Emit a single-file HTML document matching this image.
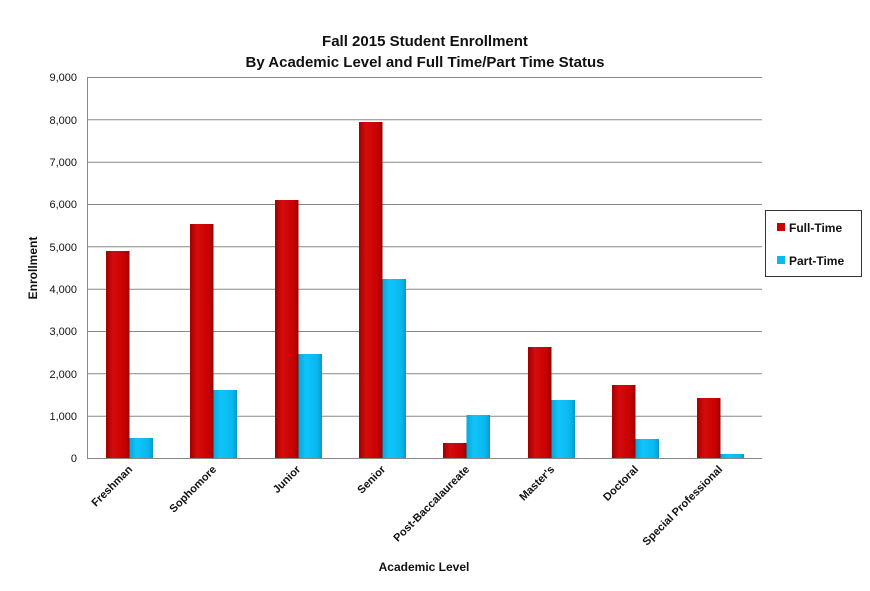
<!DOCTYPE html>
<html><head><style>
body{margin:0;background:#fff;}
svg text{font-family:"Liberation Sans",sans-serif;}
</style></head><body>
<svg width="870" height="586" xmlns="http://www.w3.org/2000/svg">
<defs>
<linearGradient id="r" x1="0" x2="1"><stop offset="0" stop-color="#a00000"/><stop offset="0.3" stop-color="#d40c0c"/><stop offset="0.8" stop-color="#c80000"/><stop offset="1" stop-color="#960000"/></linearGradient>
<linearGradient id="b" x1="0" x2="1"><stop offset="0" stop-color="#0aa6d8"/><stop offset="0.3" stop-color="#10c4f8"/><stop offset="0.8" stop-color="#08b8f0"/><stop offset="1" stop-color="#0898c8"/></linearGradient>
</defs>
<text x="425" y="46" font-size="15" font-weight="bold" text-anchor="middle" fill="#111">Fall 2015 Student Enrollment</text>
<text x="425" y="67" font-size="15" font-weight="bold" text-anchor="middle" fill="#111">By Academic Level and Full Time/Part Time Status</text>
<g stroke="#888" stroke-width="1">
<line x1="87" y1="77.5" x2="762" y2="77.5"/><line x1="87" y1="119.8" x2="762" y2="119.8"/><line x1="87" y1="162.2" x2="762" y2="162.2"/><line x1="87" y1="204.5" x2="762" y2="204.5"/><line x1="87" y1="246.8" x2="762" y2="246.8"/><line x1="87" y1="289.2" x2="762" y2="289.2"/><line x1="87" y1="331.5" x2="762" y2="331.5"/><line x1="87" y1="373.8" x2="762" y2="373.8"/><line x1="87" y1="416.2" x2="762" y2="416.2"/><line x1="87" y1="458.5" x2="762" y2="458.5"/>
<line x1="87.5" y1="77" x2="87.5" y2="459"/>
</g>
<g font-size="11" text-anchor="end" fill="#111">
<text x="77" y="81">9,000</text><text x="77" y="124">8,000</text><text x="77" y="166">7,000</text><text x="77" y="208">6,000</text><text x="77" y="251">5,000</text><text x="77" y="293">4,000</text><text x="77" y="335">3,000</text><text x="77" y="378">2,000</text><text x="77" y="420">1,000</text><text x="77" y="462">0</text>
</g>
<g id="bars">
<rect x="106" y="251" width="23.5" height="207" fill="url(#r)"/><rect x="129.5" y="438" width="23.5" height="20" fill="url(#b)"/>
<rect x="190" y="224" width="23.5" height="234" fill="url(#r)"/><rect x="213.5" y="390" width="23.5" height="68" fill="url(#b)"/>
<rect x="275" y="200" width="23.5" height="258" fill="url(#r)"/><rect x="298.5" y="354" width="23.5" height="104" fill="url(#b)"/>
<rect x="359" y="122" width="23.5" height="336" fill="url(#r)"/><rect x="382.5" y="279" width="23.5" height="179" fill="url(#b)"/>
<rect x="443" y="443" width="23.5" height="15" fill="url(#r)"/><rect x="466.5" y="415" width="23.5" height="43" fill="url(#b)"/>
<rect x="528" y="347" width="23.5" height="111" fill="url(#r)"/><rect x="551.5" y="400" width="23.5" height="58" fill="url(#b)"/>
<rect x="612" y="385" width="23.5" height="73" fill="url(#r)"/><rect x="635.5" y="439" width="23.5" height="19" fill="url(#b)"/>
<rect x="697" y="398" width="23.5" height="60" fill="url(#r)"/><rect x="720.5" y="454" width="23.5" height="4" fill="url(#b)"/>
</g>
<g font-size="11" font-weight="bold" text-anchor="end" fill="#111">
<text transform="translate(133,470) rotate(-45)">Freshman</text>
<text transform="translate(217,470) rotate(-45)">Sophomore</text>
<text transform="translate(301,470) rotate(-45)">Junior</text>
<text transform="translate(386,470) rotate(-45)">Senior</text>
<text transform="translate(470,470) rotate(-45)">Post-Baccalaureate</text>
<text transform="translate(555,470) rotate(-45)">Master's</text>
<text transform="translate(639,470) rotate(-45)">Doctoral</text>
<text transform="translate(723,470) rotate(-45)">Special Professional</text>
</g>
<text x="424" y="571" font-size="12" font-weight="bold" text-anchor="middle" fill="#111">Academic Level</text>
<text transform="translate(37,268) rotate(-90)" font-size="12" font-weight="bold" text-anchor="middle" fill="#111">Enrollment</text>
<rect x="765.5" y="210.5" width="96" height="66" fill="#fff" stroke="#333"/>
<rect x="777" y="223" width="8" height="8" fill="#c80000"/>
<text x="789" y="232" font-size="12" font-weight="bold" fill="#111">Full-Time</text>
<rect x="777" y="256" width="8" height="8" fill="#08b8f0"/>
<text x="789" y="265" font-size="12" font-weight="bold" fill="#111">Part-Time</text>
</svg>
</body></html>
